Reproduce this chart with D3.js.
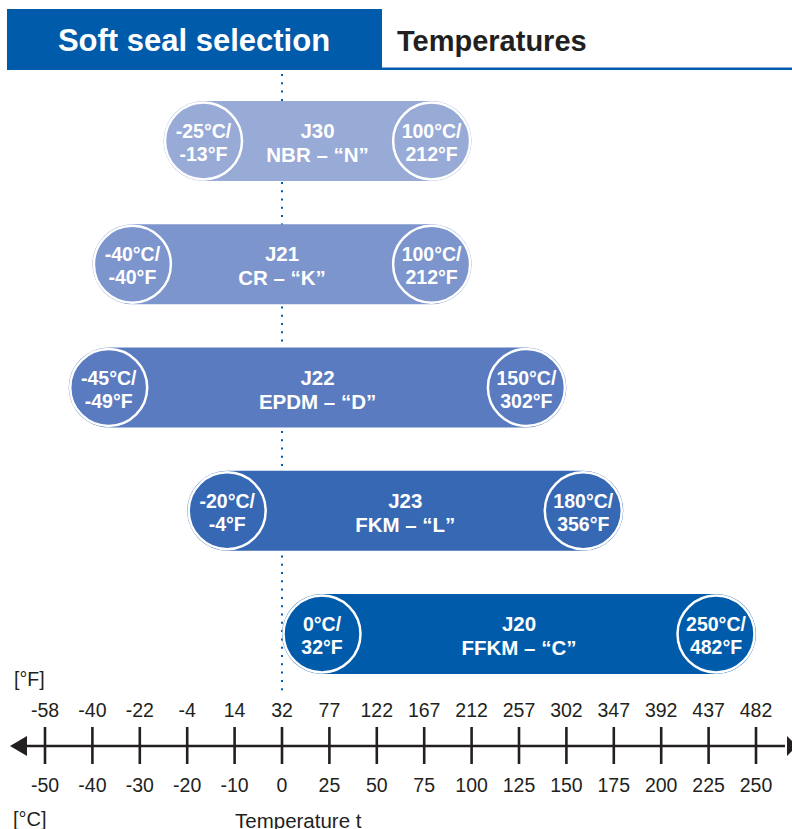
<!DOCTYPE html>
<html><head><meta charset="utf-8">
<script src="https://cdn.jsdelivr.net/npm/d3@7"></script>
<style>html,body{margin:0;padding:0;background:#fff;}svg{display:block;font-family:"Liberation Sans",Arial,Helvetica,sans-serif;}</style>
</head><body>
<svg id="chart" width="792" height="829"></svg>
<script>
// ---- data ----
const codes = ["J30", "J21", "J22", "J23", "J20"];
const materials = ["NBR – “N”", "CR – “K”", "EPDM – “D”", "FKM – “L”", "FFKM – “C”"];
const minC = [-25, -40, -45, -20, 0];
const maxC = [100, 100, 150, 180, 250];
const minF = [-13, -40, -49, -4, 32];
const maxF = [212, 212, 302, 356, 482];
const celsiusTicks = [-50, -40, -30, -20, -10, 0, 25, 50, 75, 100, 125, 150, 175, 200, 225, 250];
const fahrenheitLabels = ["-58", "-40", "-22", "-4", "14", "32", "77", "122", "167", "212", "257", "302", "347", "392", "437", "482"];
const barColors = ["#98aad6", "#7d95cd", "#5a7bbf", "#3668b3", "#005baa"];

const svg = d3.select("#chart");
const blue = "#005baa", ink = "#231f20";

// piecewise scale: -50..0 in steps of 10, 0..250 in steps of 25, equal spacing
const x = d3.scaleLinear().domain([-50, 0, 250]).range([45, 282, 756]);
const y = d3.scaleBand().domain(codes).range([101, 674]).paddingInner(0.351).paddingOuter(0);

// header
svg.append("rect").attr("x", 7).attr("y", 9).attr("width", 375).attr("height", 61).attr("fill", blue);
svg.append("rect").attr("x", 7).attr("y", 67.5).attr("width", 785).attr("height", 2.5).attr("fill", blue);
svg.append("text").attr("x", 194).attr("y", 51).attr("text-anchor", "middle")
  .attr("fill", "#fff").attr("font-weight", "bold").attr("font-size", 31).text("Soft seal selection");
svg.append("text").attr("x", 397).attr("y", 51)
  .attr("fill", ink).attr("font-weight", "bold").attr("font-size", 29).text("Temperatures");

// dotted zero line
svg.append("line").attr("x1", x(0)).attr("x2", x(0)).attr("y1", 74).attr("y2", 692)
  .attr("stroke", blue).attr("stroke-width", 2).attr("stroke-dasharray", "2,6.3");

// bars
const rows = codes.map((c, i) => ({code: c, mat: materials[i], lo: minC[i], hi: maxC[i], loF: minF[i], hiF: maxF[i], col: barColors[i]}));
const h = y.bandwidth(), r = h / 2;
const g = svg.selectAll("g.bar").data(rows).join("g").attr("class", "bar");
g.append("rect").attr("x", d => x(d.lo)).attr("y", d => y(d.code))
  .attr("width", d => x(d.hi) - x(d.lo)).attr("height", h).attr("rx", r).attr("ry", r)
  .attr("fill", d => d.col);
[["lo", "loF", 1], ["hi", "hiF", -1]].forEach(([k, kf, s]) => {
  g.append("circle").attr("cx", d => x(d[k]) + s * r).attr("cy", d => y(d.code) + r)
    .attr("r", r - 1.5).attr("fill", d => d.col).attr("stroke", "#fff").attr("stroke-width", 2.5);
  const t = g.append("text").attr("text-anchor", "middle").attr("fill", "#fff")
    .attr("font-weight", "bold").attr("font-size", 19.5);
  t.append("tspan").attr("x", d => x(d[k]) + s * r).attr("y", d => y(d.code) + r - 3).text(d => d[k] + "°C/");
  t.append("tspan").attr("x", d => x(d[k]) + s * r).attr("y", d => y(d.code) + r + 20).text(d => d[kf] + "°F");
});
const mt = g.append("text").attr("text-anchor", "middle").attr("fill", "#fff")
  .attr("font-weight", "bold").attr("font-size", 20.5);
mt.append("tspan").attr("x", d => (x(d.lo) + x(d.hi)) / 2).attr("y", d => y(d.code) + r - 3).text(d => d.code);
mt.append("tspan").attr("x", d => (x(d.lo) + x(d.hi)) / 2).attr("y", d => y(d.code) + r + 21).text(d => d.mat);

// axis
const ay = 746;
svg.append("line").attr("x1", 20).attr("x2", 785).attr("y1", ay).attr("y2", ay).attr("stroke", ink).attr("stroke-width", 2.6);
svg.append("path").attr("d", `M10,${ay}L27,${ay - 10}L27,${ay + 10}Z`).attr("fill", ink);
svg.append("path").attr("d", `M797,${ay}L787,${ay - 10}L787,${ay + 10}Z`).attr("fill", ink);
const axisG = svg.append("g").attr("transform", `translate(0,${ay})`)
  .call(d3.axisBottom(x).tickValues(celsiusTicks).tickSize(0).tickFormat(""));
axisG.select(".domain").remove();
svg.selectAll("line.tick").data(celsiusTicks).join("line").attr("class", "tick")
  .attr("x1", d => x(d)).attr("x2", d => x(d)).attr("y1", 727).attr("y2", 764)
  .attr("stroke", ink).attr("stroke-width", 2.6);
svg.selectAll("text.cl").data(celsiusTicks).join("text").attr("class", "cl")
  .attr("x", d => x(d)).attr("y", 792).attr("text-anchor", "middle")
  .attr("font-size", 19.5).attr("fill", ink).text(d => d);
svg.selectAll("text.fl").data(celsiusTicks).join("text").attr("class", "fl")
  .attr("x", d => x(d)).attr("y", 717).attr("text-anchor", "middle")
  .attr("font-size", 19.5).attr("fill", ink).text((d, i) => fahrenheitLabels[i]);
svg.append("text").attr("x", 14).attr("y", 686).attr("font-size", 19.5).attr("fill", ink).text("[°F]");
svg.append("text").attr("x", 13).attr("y", 826).attr("font-size", 20).attr("fill", ink).text("[°C]");
svg.append("text").attr("x", 235).attr("y", 828).attr("font-size", 20.5).attr("fill", ink).text("Temperature t");
</script>
</body></html>
